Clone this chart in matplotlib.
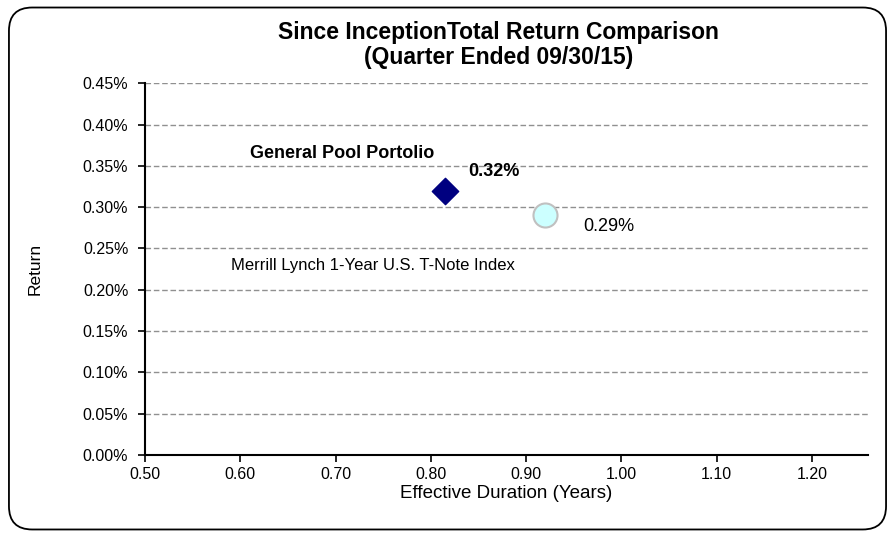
import matplotlib.pyplot as plt
from matplotlib.patches import FancyBboxPatch
from matplotlib.ticker import FuncFormatter

plt.rcParams['font.family'] = ['Liberation Sans', 'DejaVu Sans']

# data
names = ['General Pool Portolio', 'Merrill Lynch 1-Year U.S. T-Note Index']
durations = [0.815, 0.92]
returns = [0.32, 0.29]
x_ticks = [0.50, 0.60, 0.70, 0.80, 0.90, 1.00, 1.10, 1.20]
y_ticks = [0.00, 0.05, 0.10, 0.15, 0.20, 0.25, 0.30, 0.35, 0.40, 0.45]

fig = plt.figure(figsize=(8.95, 5.37), dpi=100)
ax = fig.add_axes([0.162, 0.153, 0.808, 0.692])

# rounded border round the whole chart
border = FancyBboxPatch((0.010, 0.014), 0.980, 0.972,
                        boxstyle='round,pad=0,rounding_size=0.026',
                        transform=fig.transFigure, fill=False,
                        edgecolor='black', linewidth=1.3, mutation_aspect=895/537)
fig.patches.append(border)

ax.scatter(durations[0], returns[0], marker='D', s=180, color='#000080', zorder=3)
ax.scatter(durations[1], returns[1], marker='o', s=300, facecolor='#ccffff',
           edgecolor='#c0c0c0', linewidth=1.5, zorder=3)

ax.annotate(f'{returns[0]:.2f}%', (durations[0], returns[0]), xytext=(35, 14),
            textcoords='offset points', fontsize=13, fontweight='bold',
            ha='center', va='center')
ax.annotate(names[0], (durations[0], returns[0]), xytext=(-74, 27),
            textcoords='offset points', fontsize=13, fontweight='bold',
            ha='center', va='center')
ax.annotate(f'{returns[1]:.2f}%', (durations[1], returns[1]), xytext=(46, -8),
            textcoords='offset points', fontsize=13, ha='center', va='center')
ax.annotate(names[1], (durations[1], returns[1]), xytext=(-124, -36),
            textcoords='offset points', fontsize=12, ha='center', va='center')

ax.set_xlim(0.5, 1.259)
ax.set_ylim(0, 0.45)
ax.set_xticks(x_ticks)
ax.set_yticks(y_ticks)
ax.xaxis.set_major_formatter(FuncFormatter(lambda v, p: f'{v:.2f}'))
ax.yaxis.set_major_formatter(FuncFormatter(lambda v, p: f'{v:.2f}%'))
ax.tick_params(labelsize=11.5, direction='out', length=5, width=1.2, color='black')
ax.tick_params(axis='y', pad=7)

ax.grid(axis='y', linestyle=(0, (4, 2)), color='#909090', linewidth=1)
ax.set_axisbelow(True)
for s in ['top', 'right']:
    ax.spines[s].set_visible(False)
for s in ['left', 'bottom']:
    ax.spines[s].set_linewidth(1.5)

ax.set_xlabel('Effective Duration (Years)', fontsize=13.5)
ax.set_ylabel('Return', fontsize=12.5)
ax.xaxis.set_label_coords(0.5, -0.08)
ax.yaxis.set_label_coords(-0.141, 0.5)

fig.text(0.557, 1 - 45 / 537, 'Since InceptionTotal Return Comparison\n(Quarter Ended 09/30/15)',
         fontsize=16.5, fontweight='bold', ha='center', va='center',
         multialignment='center', linespacing=1.1)

fig.savefig('out.png', dpi=100)
